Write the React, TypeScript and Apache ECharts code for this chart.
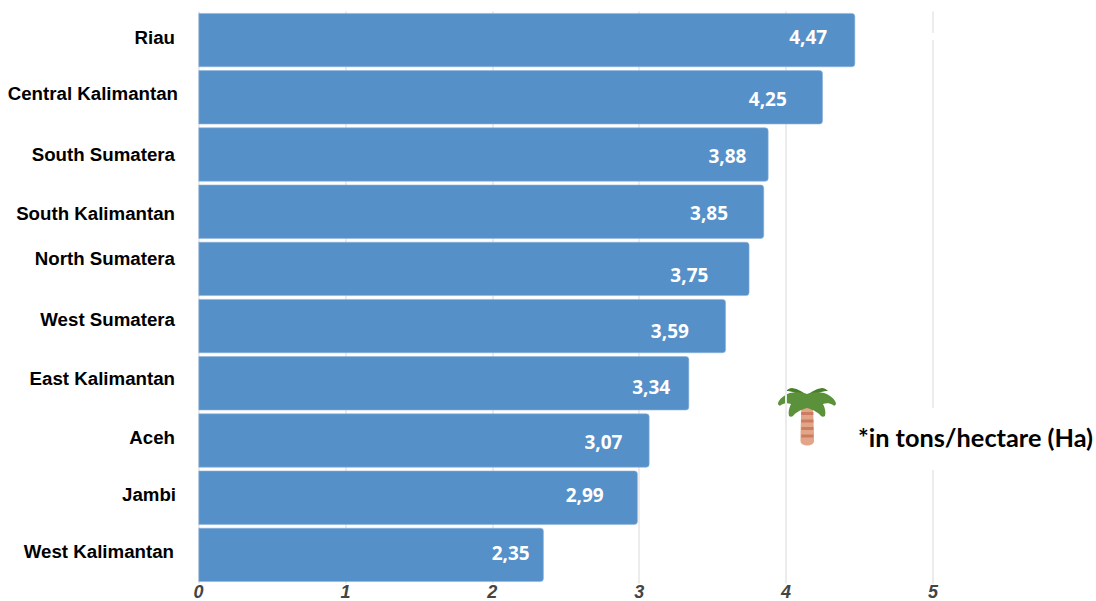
import React, { useEffect, useRef } from "react";
import * as echarts from "echarts";

const provinces = [
  "Riau",
  "Central Kalimantan",
  "South Sumatera",
  "South Kalimantan",
  "North Sumatera",
  "West Sumatera",
  "East Kalimantan",
  "Aceh",
  "Jambi",
  "West Kalimantan",
];
const yields = [4.47, 4.25, 3.88, 3.85, 3.75, 3.59, 3.34, 3.07, 2.99, 2.35];

// Hand placement of the texts around each bar, in pixels
const valueNudges = [
  [-23, -3], [-31, 2], [-17, 1.5], [-31, 1.5], [-36, 6], [-32, 5], [-14, 4], [-22, 1.5], [-29, -2.5], [-9, -2],
];
const nameShiftY = [-3, -4, 0, 1.5, -10, -7, -5, -3.5, -3.5, -3];
const nameInsetRight = [3, 0, 3, 3, 3, 3, 3, 3, 2, 4];

const FROND =
  "M29 6 C24 4 12 3 6 8 C3 10 0 13 0 16 C1 18 2 18 3 17 C6 15 10 15 13 16 C11 20 10 24 11 28 C12 29 14 29 15 28 C17 25 22 22 29 20 Z";
const BACK_FROND = "M29 8 C26 4 20 1 14 0 C12 0 10 1 8 3 C14 3 20 5 26 10 Z";
const TRUNK = "M23.5 17 L34.5 17 C35.5 28 36 42 36 53 C36 59 22.5 59 22.5 53 C22.5 42 23 28 23.5 17 Z";

echarts.graphic.registerShape("palmFrond", echarts.graphic.extendPath(FROND, {}));
echarts.graphic.registerShape("palmBack", echarts.graphic.extendPath(BACK_FROND, {}));
echarts.graphic.registerShape("palmTrunk", echarts.graphic.extendPath(TRUNK, {}));

const nameRich: Record<string, any> = {};
provinces.forEach((_, i) => {
  const dy = nameShiftY[i];
  nameRich["n" + i] = {
    color: "#000000",
    fontFamily: "Liberation Sans",
    fontSize: 18.7,
    fontWeight: "bold",
    padding: [dy > 0 ? 2 * dy : 0, nameInsetRight[i], dy < 0 ? -2 * dy : 0, 0],
  };
});

export default function App() {
  const ref = useRef<HTMLDivElement>(null);

  useEffect(() => {
    const chart = echarts.init(ref.current!, null, { renderer: "svg" });
    const stripes = [24, 31.5, 39, 46.5].map((y) => ({
      type: "rect",
      shape: { x: 23.2, y, width: 12.2, height: 3 },
      style: { fill: "#cc7d61" },
    }));
    chart.setOption({
      animation: false,
      backgroundColor: "#ffffff",
      grid: { left: 198.5, right: 163, top: 11.5, bottom: 17.5, outerBoundsMode: "none" },
      xAxis: {
        type: "value",
        min: 0,
        max: 5,
        interval: 1,
        axisLine: { show: false },
        axisTick: { show: false },
        splitLine: { show: true, lineStyle: { color: "#ececec", width: 2 } },
        axisLabel: {
          margin: -1,
          color: "#444444",
          fontFamily: "Liberation Sans",
          fontSize: 18,
          fontWeight: "bold",
          fontStyle: "italic",
        },
      },
      yAxis: {
        type: "category",
        inverse: true,
        data: provinces,
        axisLine: { show: false },
        axisTick: { show: false },
        axisLabel: {
          margin: 20.5,
          formatter: (name: string) => `{n${provinces.indexOf(name)}|${name}}`,
          rich: nameRich,
        },
      },
      series: [
        {
          type: "bar",
          barCategoryGap: "5.6%",
          data: yields.map((value, i) => ({
            value,
            label: { offset: valueNudges[i] },
          })),
          itemStyle: {
            color: "#5590c9",
            borderRadius: [0, 3, 3, 0],
            borderColor: "#8db4dc",
            borderWidth: 0.6,
          },
          label: {
            show: true,
            position: "insideRight",
            distance: 5,
            color: "#ffffff",
            fontFamily: "Open Sans",
            fontSize: 19,
            fontWeight: "bold",
            formatter: (p: any) => p.value.toFixed(2).replace(".", ","),
          },
        },
      ],
      graphic: [
        { type: "rect", z: 50, shape: { x: 850, y: 408, width: 246, height: 62 }, style: { fill: "#ffffff" } },
        { type: "rect", z: 50, shape: { x: 925, y: 33, width: 14, height: 7 }, style: { fill: "#ffffff" } },
        {
          type: "text",
          z: 51,
          x: 858,
          y: 437,
          style: {
            text: "*in tons/hectare (Ha)",
            fill: "#000000",
            font: "bold 25.3px Lato",
            verticalAlign: "middle",
          },
        },
        {
          type: "group",
          z: 52,
          x: 778,
          y: 388,
          children: [
            { type: "palmTrunk", style: { fill: "#e3a587" } },
            ...stripes,
            { type: "palmBack", style: { fill: "#4a7f2a" } },
            { type: "palmBack", x: 58, scaleX: -1, style: { fill: "#4a7f2a" } },
            { type: "palmFrond", style: { fill: "#5c913b" } },
            { type: "palmFrond", x: 58, scaleX: -1, style: { fill: "#5c913b" } },
          ],
        },
      ],
    });
    return () => chart.dispose();
  }, []);

  return <div ref={ref} style={{ position: "fixed", left: 0, top: 0, width: 1096, height: 601 }} />;
}
